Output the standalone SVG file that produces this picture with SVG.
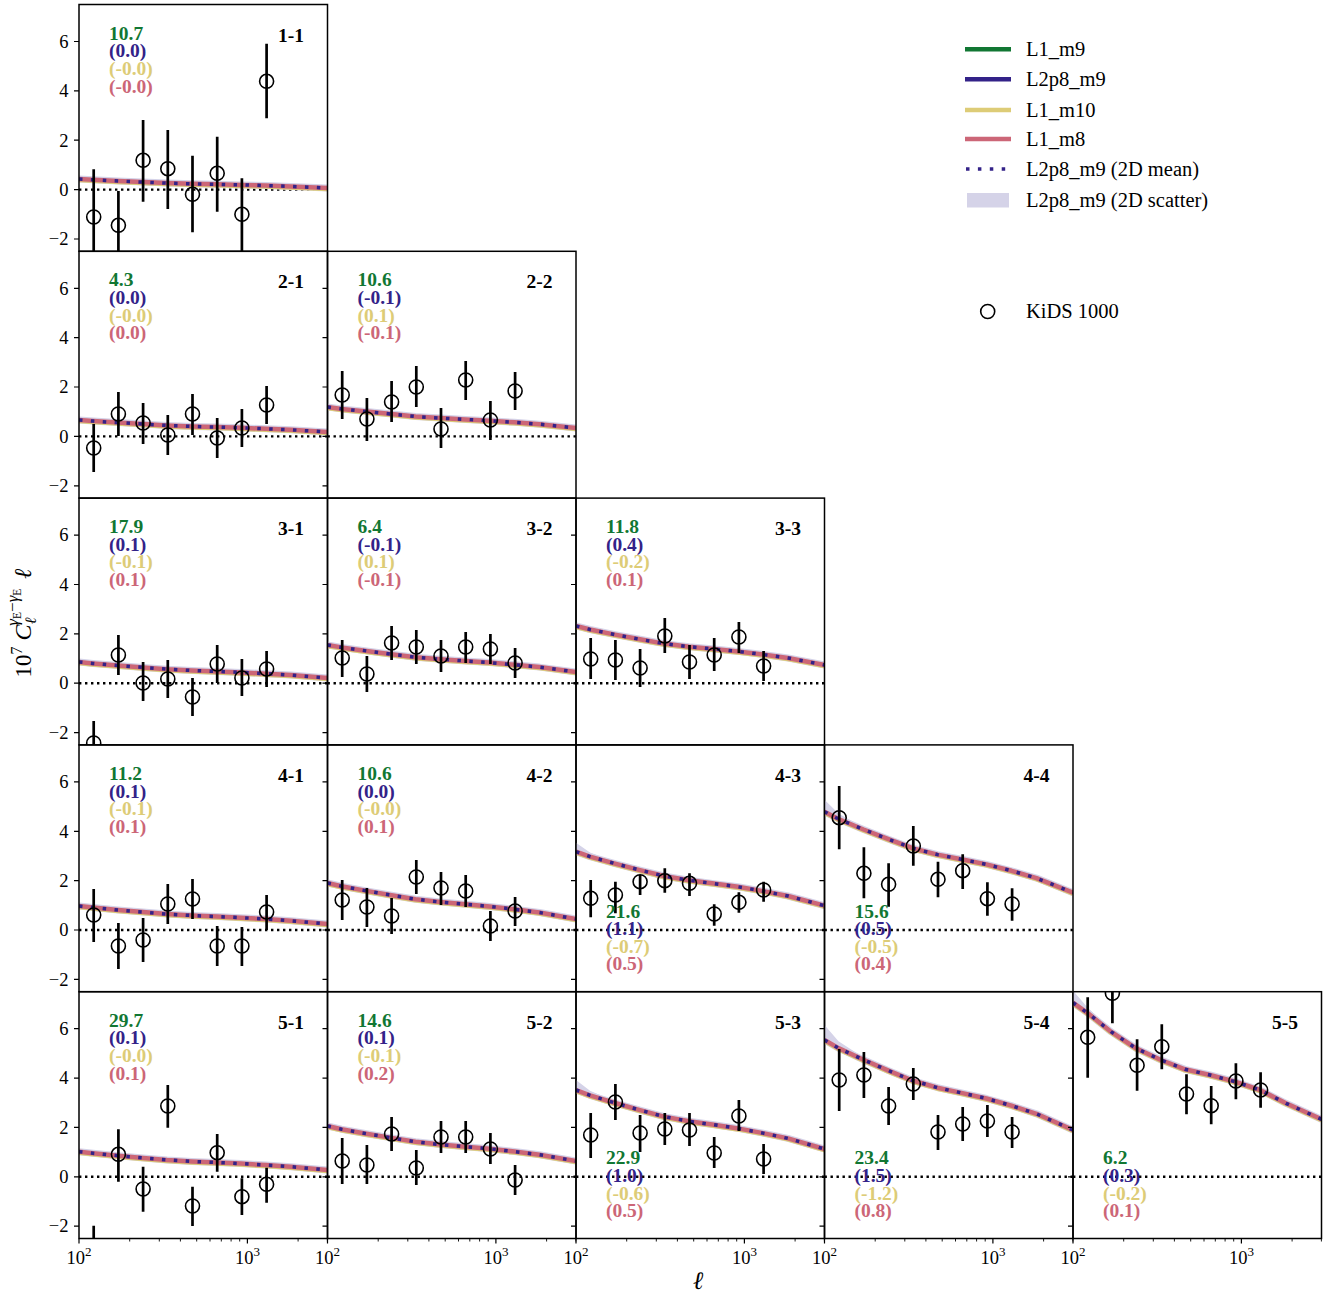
<svg xmlns="http://www.w3.org/2000/svg" width="1335" height="1294" viewBox="0 0 1335 1294">
<style>
.frame{fill:none;stroke:#000;stroke-width:1.5}
.tk{fill:none;stroke:#000;stroke-width:1.2}
.tkm{fill:none;stroke:#000;stroke-width:0.9}
.zero{fill:none;stroke:#000;stroke-width:2.4;stroke-dasharray:2.4 3.6}
.bd{fill:none;stroke:#d5d3e8;stroke-width:7;stroke-linejoin:round}
.wedge{fill:#d5d3e8}
.cg{fill:none;stroke:#117733;stroke-width:4.5}
.cb{fill:none;stroke:#332288;stroke-width:4.5}
.cy{fill:none;stroke:#ddcc77;stroke-width:4.5;stroke-linejoin:round}
.cp{fill:none;stroke:#cc6677;stroke-width:4.5;stroke-linejoin:round}
.cd{fill:none;stroke:#332288;stroke-width:3.5;stroke-dasharray:3.5 8.4}
.eb{fill:none;stroke:#000;stroke-width:2.7}
.pt{fill:none;stroke:#000;stroke-width:1.6}
text{font-family:"Liberation Serif","Times New Roman",serif}
.val{font-size:19.5px;font-weight:bold}
.lab{font-size:19.5px;font-weight:bold;text-anchor:end}
.g{fill:#117733}.b{fill:#332288}.y{fill:#ddcc77}.p{fill:#cc6677}
.yl{font-size:18.5px;text-anchor:end}
.xl{font-size:18.5px;text-anchor:middle}
.leg{font-size:20.5px}
</style>
<defs>
<clipPath id="clip"><rect x="0" y="0" width="248.5" height="246.8"/></clipPath>
<path id="yt" d="M-5 37H0M-5 86.4H0M-5 135.7H0M-5 185.1H0M-5 234.5H0"/>
<path id="xtM" d="M0 246.8v5M168.4 246.8v5"/>
<path id="xtm" d="M50.7 246.8v3M80.3 246.8v3M101.4 246.8v3M117.7 246.8v3M131 246.8v3M142.3 246.8v3M152.1 246.8v3M160.7 246.8v3M219.1 246.8v3M248.4 246.8v3"/>
<path id="c11" d="M0 174.5L14 175.3L39 176.5L64 177.6L88 178.6L113 179.3L138 179.8L162 180.4L187 181.1L212 181.9L248.5 183.5"/>
<path id="c21" d="M0 168.7L14 169.8L39 171.3L64 172.8L88 174.1L113 175.1L138 175.8L162 176.5L187 177.5L212 178.5L248.5 180.7"/>
<path id="c22" d="M0 155.7L14 157.6L39 160.3L64 162.8L88 165.2L113 166.8L138 168.1L162 169.4L187 171L212 172.9L248.5 176.7"/>
<path id="c31" d="M0 163.9L14 165.3L39 167.4L64 169.3L88 171.1L113 172.4L138 173.3L162 174.3L187 175.6L212 177L248.5 179.9"/>
<path id="c32" d="M0 146.9L14 149.3L39 152.8L64 156.1L88 159.1L113 161.2L138 162.8L162 164.5L187 166.6L212 169L248.5 173.9"/>
<path id="c33" d="M0 127.9L14 131.4L39 136.5L64 141.2L88 145.5L113 148.6L138 150.9L162 153.3L187 156.4L212 159.9L248.5 166.9"/>
<path id="c41" d="M0 161.1L14 162.7L39 165.1L64 167.2L88 169.2L113 170.6L138 171.7L162 172.8L187 174.2L212 175.9L248.5 179.1"/>
<path id="c42" d="M0 138.1L14 141.3L39 146L64 150.3L88 154.3L113 157.2L138 159.3L162 161.5L187 164.4L212 167.6L248.5 174.1"/>
<path id="c43" d="M0 106.8L14 111.7L39 118.7L64 125.2L88 131.1L113 135.4L138 138.7L162 141.9L187 146.2L212 151.1L248.5 160.8"/>
<path id="c44" d="M0 66.8L14 74.1L39 84.6L64 94.3L88 103.3L113 109.7L138 114.6L162 119.5L187 125.9L212 133.2L248.5 147.8"/>
<path id="c51" d="M0 160L14 161.6L39 164L64 166.2L88 168.2L113 169.7L138 170.8L162 171.9L187 173.4L212 175L248.5 178.3"/>
<path id="c52" d="M0 134.3L14 137.5L39 142L64 146.2L88 150.1L113 152.9L138 155L162 157.1L187 159.9L212 163L248.5 169.3"/>
<path id="c53" d="M0 98.3L14 103.6L39 111.3L64 118.4L88 124.9L113 129.6L138 133.1L162 136.7L187 141.4L212 146.7L248.5 157.3"/>
<path id="c54" d="M0 48.3L14 56.4L39 68.1L64 78.9L88 88.8L113 96L138 101.4L162 106.8L187 114L212 122.1L248.5 138.3"/>
<path id="c55" d="M0 11L15 21.6L38 40L63 56.6L88 68.3L112 77.6L137 83.3L162 90L187 98.3L213 111.6L248.5 127.6"/>
</defs>
<rect width="1335" height="1294" fill="#fff"/>

<!-- Row 1 -->
<g id="p11" transform="translate(79 4.5)">
<g clip-path="url(#clip)">
<path class="zero" d="M0 185.1H248.5"/>
<use href="#c11" class="bd"/><use href="#c11" class="cy" y="1"/><use href="#c11" class="cp"/><use href="#c11" class="cd"/>
<path class="eb" d="M14.7 164.8V260M39.4 186.5V260M64.1 115.5V197.2M88.8 125.5V204.5M113.5 151.2V227.8M138.2 132.2V207.2M162.9 173.8V260M187.6 39.2V113.8"/>
<g class="pt"><circle cx="14.7" cy="212.5" r="7"/><circle cx="39.4" cy="220.8" r="7"/><circle cx="64.1" cy="155.8" r="7"/><circle cx="88.8" cy="164.2" r="7"/><circle cx="113.5" cy="189.8" r="7"/><circle cx="138.2" cy="168.8" r="7"/><circle cx="162.9" cy="209.8" r="7"/><circle cx="187.6" cy="76.8" r="7"/></g>
</g>
<rect class="frame" width="248.5" height="246.8"/>
<use href="#yt" class="tk"/>
<text class="yl" x="-10.5" y="43.3">6</text><text class="yl" x="-10.5" y="92.7">4</text><text class="yl" x="-10.5" y="142">2</text><text class="yl" x="-10.5" y="191.4">0</text><text class="yl" x="-10.5" y="240.8">−2</text>
<text class="val g" x="30" y="35.2">10.7</text><text class="val b" x="30" y="52.8">(0.0)</text><text class="val y" x="30" y="70.4">(-0.0)</text><text class="val p" x="30" y="88">(-0.0)</text>
<text class="lab" x="225" y="37">1-1</text>
</g>

<!-- Row 2 -->
<g id="p21" transform="translate(79 251.3)">
<g clip-path="url(#clip)">
<path class="zero" d="M0 185.1H248.5"/>
<use href="#c21" class="bd"/><use href="#c21" class="cy" y="1"/><use href="#c21" class="cp"/><use href="#c21" class="cd"/>
<path class="eb" d="M14.7 172.7V220.7M39.4 140.7V184.7M64.1 151.7V192.7M88.8 163.7V203.7M113.5 142.7V183.7M138.2 166.7V206.7M162.9 157.7V195.7M187.6 134.7V172.7"/>
<g class="pt"><circle cx="14.7" cy="196.7" r="7"/><circle cx="39.4" cy="162.7" r="7"/><circle cx="64.1" cy="171.7" r="7"/><circle cx="88.8" cy="183.7" r="7"/><circle cx="113.5" cy="162.7" r="7"/><circle cx="138.2" cy="186.7" r="7"/><circle cx="162.9" cy="176.7" r="7"/><circle cx="187.6" cy="153.7" r="7"/></g>
</g>
<rect class="frame" width="248.5" height="246.8"/>
<use href="#yt" class="tk"/>
<text class="yl" x="-10.5" y="43.3">6</text><text class="yl" x="-10.5" y="92.7">4</text><text class="yl" x="-10.5" y="142">2</text><text class="yl" x="-10.5" y="191.4">0</text><text class="yl" x="-10.5" y="240.8">−2</text>
<text class="val g" x="30" y="35.2">4.3</text><text class="val b" x="30" y="52.8">(0.0)</text><text class="val y" x="30" y="70.4">(-0.0)</text><text class="val p" x="30" y="88">(0.0)</text>
<text class="lab" x="225" y="37">2-1</text>
</g>

<g id="p22" transform="translate(327.5 251.3)">
<g clip-path="url(#clip)">
<path class="zero" d="M0 185.1H248.5"/>
<use href="#c22" class="bd"/><use href="#c22" class="cy" y="1"/><use href="#c22" class="cp"/><use href="#c22" class="cd"/>
<path class="eb" d="M14.7 119.7V167.7M39.4 146.7V189.7M64.1 129.7V170.7M88.8 114.7V155.7M113.5 156.7V196.7M138.2 109.7V148.7M162.9 149.7V188.7M187.6 120.7V158.7"/>
<g class="pt"><circle cx="14.7" cy="143.7" r="7"/><circle cx="39.4" cy="167.7" r="7"/><circle cx="64.1" cy="150.7" r="7"/><circle cx="88.8" cy="135.7" r="7"/><circle cx="113.5" cy="177.7" r="7"/><circle cx="138.2" cy="128.7" r="7"/><circle cx="162.9" cy="168.7" r="7"/><circle cx="187.6" cy="139.7" r="7"/></g>
</g>
<rect class="frame" width="248.5" height="246.8"/>
<use href="#yt" class="tk"/>
<text class="val g" x="30" y="35.2">10.6</text><text class="val b" x="30" y="52.8">(-0.1)</text><text class="val y" x="30" y="70.4">(0.1)</text><text class="val p" x="30" y="88">(-0.1)</text>
<text class="lab" x="225" y="37">2-2</text>
</g>

<!-- Row 3 -->
<g id="p31" transform="translate(79 498.1)">
<g clip-path="url(#clip)">
<path class="zero" d="M0 185.1H248.5"/>
<use href="#c31" class="bd"/><use href="#c31" class="cy" y="1"/><use href="#c31" class="cp"/><use href="#c31" class="cd"/>
<path class="eb" d="M14.7 222.9V267M39.4 136.9V176.9M64.1 163.9V202.9M88.8 161.9V199.9M113.5 179.9V217.9M138.2 146.9V184.9M162.9 160.9V197.9M187.6 152.9V188.9"/>
<g class="pt"><circle cx="14.7" cy="244.9" r="7"/><circle cx="39.4" cy="156.9" r="7"/><circle cx="64.1" cy="184.9" r="7"/><circle cx="88.8" cy="180.9" r="7"/><circle cx="113.5" cy="198.9" r="7"/><circle cx="138.2" cy="165.9" r="7"/><circle cx="162.9" cy="179.9" r="7"/><circle cx="187.6" cy="170.9" r="7"/></g>
</g>
<rect class="frame" width="248.5" height="246.8"/>
<use href="#yt" class="tk"/>
<text class="yl" x="-10.5" y="43.3">6</text><text class="yl" x="-10.5" y="92.7">4</text><text class="yl" x="-10.5" y="142">2</text><text class="yl" x="-10.5" y="191.4">0</text><text class="yl" x="-10.5" y="240.8">−2</text>
<text class="val g" x="30" y="35.2">17.9</text><text class="val b" x="30" y="52.8">(0.1)</text><text class="val y" x="30" y="70.4">(-0.1)</text><text class="val p" x="30" y="88">(0.1)</text>
<text class="lab" x="225" y="37">3-1</text>
</g>

<g id="p32" transform="translate(327.5 498.1)">
<g clip-path="url(#clip)">
<path class="zero" d="M0 185.1H248.5"/>
<use href="#c32" class="bd"/><use href="#c32" class="cy" y="1"/><use href="#c32" class="cp"/><use href="#c32" class="cd"/>
<path class="eb" d="M14.7 141.9V178.9M39.4 157.9V193.9M64.1 127.9V161.9M88.8 131.9V165.9M113.5 141.9V173.9M138.2 133.9V164.9M162.9 135.9V165.9M187.6 149.9V179.9"/>
<g class="pt"><circle cx="14.7" cy="159.9" r="7"/><circle cx="39.4" cy="175.9" r="7"/><circle cx="64.1" cy="144.9" r="7"/><circle cx="88.8" cy="148.9" r="7"/><circle cx="113.5" cy="157.9" r="7"/><circle cx="138.2" cy="148.9" r="7"/><circle cx="162.9" cy="150.9" r="7"/><circle cx="187.6" cy="164.9" r="7"/></g>
</g>
<rect class="frame" width="248.5" height="246.8"/>
<use href="#yt" class="tk"/>
<text class="val g" x="30" y="35.2">6.4</text><text class="val b" x="30" y="52.8">(-0.1)</text><text class="val y" x="30" y="70.4">(0.1)</text><text class="val p" x="30" y="88">(-0.1)</text>
<text class="lab" x="225" y="37">3-2</text>
</g>

<g id="p33" transform="translate(576 498.1)">
<g clip-path="url(#clip)">
<path class="zero" d="M0 185.1H248.5"/>
<use href="#c33" class="bd"/><use href="#c33" class="cy" y="1"/><use href="#c33" class="cp"/><use href="#c33" class="cd"/>
<path class="eb" d="M14.7 139.9V180.9M39.4 141.9V181.9M64.1 150.9V188.9M88.8 119.9V154.9M113.5 146.9V180.9M138.2 139.9V172.9M162.9 123.9V154.9M187.6 152.9V182.9"/>
<g class="pt"><circle cx="14.7" cy="160.9" r="7"/><circle cx="39.4" cy="161.9" r="7"/><circle cx="64.1" cy="169.9" r="7"/><circle cx="88.8" cy="137.9" r="7"/><circle cx="113.5" cy="163.9" r="7"/><circle cx="138.2" cy="156.9" r="7"/><circle cx="162.9" cy="138.9" r="7"/><circle cx="187.6" cy="167.9" r="7"/></g>
</g>
<rect class="frame" width="248.5" height="246.8"/>
<use href="#yt" class="tk"/>
<text class="val g" x="30" y="35.2">11.8</text><text class="val b" x="30" y="52.8">(0.4)</text><text class="val y" x="30" y="70.4">(-0.2)</text><text class="val p" x="30" y="88">(0.1)</text>
<text class="lab" x="225" y="37">3-3</text>
</g>

<!-- Row 4 -->
<g id="p41" transform="translate(79 744.9)">
<g clip-path="url(#clip)">
<path class="zero" d="M0 185.1H248.5"/>
<use href="#c41" class="bd"/><use href="#c41" class="cy" y="1"/><use href="#c41" class="cp"/><use href="#c41" class="cd"/>
<path class="eb" d="M14.7 144.1V197.1M39.4 178.1V224.1M64.1 173.1V217.1M88.8 139.1V179.1M113.5 134.1V174.1M138.2 181.1V221.1M162.9 182.1V221.1M187.6 150.1V185.1"/>
<g class="pt"><circle cx="14.7" cy="170.1" r="7"/><circle cx="39.4" cy="201.1" r="7"/><circle cx="64.1" cy="195.1" r="7"/><circle cx="88.8" cy="159.1" r="7"/><circle cx="113.5" cy="154.1" r="7"/><circle cx="138.2" cy="201.1" r="7"/><circle cx="162.9" cy="201.1" r="7"/><circle cx="187.6" cy="167.1" r="7"/></g>
</g>
<rect class="frame" width="248.5" height="246.8"/>
<use href="#yt" class="tk"/>
<text class="yl" x="-10.5" y="43.3">6</text><text class="yl" x="-10.5" y="92.7">4</text><text class="yl" x="-10.5" y="142">2</text><text class="yl" x="-10.5" y="191.4">0</text><text class="yl" x="-10.5" y="240.8">−2</text>
<text class="val g" x="30" y="35.2">11.2</text><text class="val b" x="30" y="52.8">(0.1)</text><text class="val y" x="30" y="70.4">(-0.1)</text><text class="val p" x="30" y="88">(0.1)</text>
<text class="lab" x="225" y="37">4-1</text>
</g>

<g id="p42" transform="translate(327.5 744.9)">
<g clip-path="url(#clip)">
<path class="zero" d="M0 185.1H248.5"/>
<use href="#c42" class="bd"/><use href="#c42" class="cy" y="1"/><use href="#c42" class="cp"/><use href="#c42" class="cd"/>
<path class="eb" d="M14.7 135.1V175.1M39.4 143.1V182.1M64.1 153.1V189.1M88.8 115.1V149.1M113.5 127.1V160.1M138.2 130.1V162.1M162.9 166.1V196.1M187.6 152.1V181.1"/>
<g class="pt"><circle cx="14.7" cy="155.1" r="7"/><circle cx="39.4" cy="162.1" r="7"/><circle cx="64.1" cy="171.1" r="7"/><circle cx="88.8" cy="132.1" r="7"/><circle cx="113.5" cy="143.1" r="7"/><circle cx="138.2" cy="146.1" r="7"/><circle cx="162.9" cy="181.1" r="7"/><circle cx="187.6" cy="166.1" r="7"/></g>
</g>
<rect class="frame" width="248.5" height="246.8"/>
<use href="#yt" class="tk"/>
<text class="val g" x="30" y="35.2">10.6</text><text class="val b" x="30" y="52.8">(0.0)</text><text class="val y" x="30" y="70.4">(-0.0)</text><text class="val p" x="30" y="88">(0.1)</text>
<text class="lab" x="225" y="37">4-2</text>
</g>

<g id="p43" transform="translate(576 744.9)">
<g clip-path="url(#clip)">
<path class="zero" d="M0 185.1H248.5"/>
<path class="wedge" d="M0 97.8L14 107.7L39 117.3L64 125.2L0 106.8Z"/>
<use href="#c43" class="bd"/><use href="#c43" class="cy" y="1"/><use href="#c43" class="cp"/><use href="#c43" class="cd"/>
<path class="eb" d="M14.7 135.1V172.4M39.4 136.8V168.4M64.1 130.1V150.1M88.8 123.4V147.8M113.5 128.4V151.1M138.2 159.4V180.8M162.9 147.4V167.8M187.6 136.8V156.8"/>
<g class="pt"><circle cx="14.7" cy="153.4" r="7"/><circle cx="39.4" cy="150.1" r="7"/><circle cx="64.1" cy="136.8" r="7"/><circle cx="88.8" cy="135.8" r="7"/><circle cx="113.5" cy="138.4" r="7"/><circle cx="138.2" cy="169.1" r="7"/><circle cx="162.9" cy="157.4" r="7"/><circle cx="187.6" cy="145.1" r="7"/></g>
</g>
<rect class="frame" width="248.5" height="246.8"/>
<use href="#yt" class="tk"/>
<text class="val g" x="30" y="172.8">21.6</text><text class="val b" x="30" y="190.4">(1.1)</text><text class="val y" x="30" y="208">(-0.7)</text><text class="val p" x="30" y="225.6">(0.5)</text>
<text class="lab" x="225" y="37">4-3</text>
</g>

<g id="p44" transform="translate(824.5 744.9)">
<g clip-path="url(#clip)">
<path class="zero" d="M0 185.1H248.5"/>
<path class="wedge" d="M0 54.8L14 68.7L39 82.8L64 94.3L0 66.8Z"/>
<use href="#c44" class="bd"/><use href="#c44" class="cy" y="1"/><use href="#c44" class="cp"/><use href="#c44" class="cd"/>
<path class="eb" d="M14.7 41.1V104.4M39.4 102.4V153.4M64.1 118.4V161.8M88.8 81.1V120.8M113.5 116.8V152.4M138.2 109.4V144.1M162.9 137.4V170.8M187.6 143.4V175.8"/>
<g class="pt"><circle cx="14.7" cy="72.8" r="7"/><circle cx="39.4" cy="128.4" r="7"/><circle cx="64.1" cy="139.4" r="7"/><circle cx="88.8" cy="101.1" r="7"/><circle cx="113.5" cy="134.4" r="7"/><circle cx="138.2" cy="125.8" r="7"/><circle cx="162.9" cy="153.8" r="7"/><circle cx="187.6" cy="159.1" r="7"/></g>
</g>
<rect class="frame" width="248.5" height="246.8"/>
<use href="#yt" class="tk"/>
<text class="val g" x="30" y="172.8">15.6</text><text class="val b" x="30" y="190.4">(0.5)</text><text class="val y" x="30" y="208">(-0.5)</text><text class="val p" x="30" y="225.6">(0.4)</text>
<text class="lab" x="225" y="37">4-4</text>
</g>

<!-- Row 5 -->
<g id="p51" transform="translate(79 991.7)">
<g clip-path="url(#clip)">
<path class="zero" d="M0 185.1H248.5"/>
<use href="#c51" class="bd"/><use href="#c51" class="cy" y="1"/><use href="#c51" class="cp"/><use href="#c51" class="cd"/>
<path class="eb" d="M14.7 234V278M39.4 137.6V190M64.1 175V220M88.8 93.3V136M113.5 195V234.3M138.2 142.3V180M162.9 186.6V223.3M187.6 176V211"/>
<g class="pt"><circle cx="14.7" cy="255.3" r="7"/><circle cx="39.4" cy="162.6" r="7"/><circle cx="64.1" cy="197.3" r="7"/><circle cx="88.8" cy="114.3" r="7"/><circle cx="113.5" cy="214.3" r="7"/><circle cx="138.2" cy="161" r="7"/><circle cx="162.9" cy="205" r="7"/><circle cx="187.6" cy="192.6" r="7"/></g>
</g>
<rect class="frame" width="248.5" height="246.8"/>
<use href="#yt" class="tk"/><use href="#xtM" class="tk"/><use href="#xtm" class="tkm"/>
<text class="yl" x="-10.5" y="43.3">6</text><text class="yl" x="-10.5" y="92.7">4</text><text class="yl" x="-10.5" y="142">2</text><text class="yl" x="-10.5" y="191.4">0</text><text class="yl" x="-10.5" y="240.8">−2</text>
<text class="val g" x="30" y="35.2">29.7</text><text class="val b" x="30" y="52.8">(0.1)</text><text class="val y" x="30" y="70.4">(-0.0)</text><text class="val p" x="30" y="88">(0.1)</text>
<text class="lab" x="225" y="37">5-1</text>
</g>

<g id="p52" transform="translate(327.5 991.7)">
<g clip-path="url(#clip)">
<path class="zero" d="M0 185.1H248.5"/>
<use href="#c52" class="bd"/><use href="#c52" class="cy" y="1"/><use href="#c52" class="cp"/><use href="#c52" class="cd"/>
<path class="eb" d="M14.7 146.3V192.3M39.4 153.3V192.3M64.1 125.3V159.3M88.8 158.3V193.3M113.5 129.3V161.3M138.2 129.3V161.3M162.9 141.3V172.3M187.6 173.3V203.3"/>
<g class="pt"><circle cx="14.7" cy="169.3" r="7"/><circle cx="39.4" cy="173.3" r="7"/><circle cx="64.1" cy="142.3" r="7"/><circle cx="88.8" cy="176.3" r="7"/><circle cx="113.5" cy="145.3" r="7"/><circle cx="138.2" cy="145.3" r="7"/><circle cx="162.9" cy="157.3" r="7"/><circle cx="187.6" cy="188.3" r="7"/></g>
</g>
<rect class="frame" width="248.5" height="246.8"/>
<use href="#yt" class="tk"/><use href="#xtM" class="tk"/><use href="#xtm" class="tkm"/>
<text class="val g" x="30" y="35.2">14.6</text><text class="val b" x="30" y="52.8">(0.1)</text><text class="val y" x="30" y="70.4">(-0.1)</text><text class="val p" x="30" y="88">(0.2)</text>
<text class="lab" x="225" y="37">5-2</text>
</g>

<g id="p53" transform="translate(576 991.7)">
<g clip-path="url(#clip)">
<path class="zero" d="M0 185.1H248.5"/>
<path class="wedge" d="M0 88.3L14 99.1L39 109.8L64 118.4L0 98.3Z"/>
<use href="#c53" class="bd"/><use href="#c53" class="cy" y="1"/><use href="#c53" class="cp"/><use href="#c53" class="cd"/>
<path class="eb" d="M14.7 121.3V166.3M39.4 92.3V128.3M64.1 123.3V160.3M88.8 121.3V153.3M113.5 121.3V154.3M138.2 145.3V176.3M162.9 108.3V139.3M187.6 152.3V182.3"/>
<g class="pt"><circle cx="14.7" cy="143.3" r="7"/><circle cx="39.4" cy="110.3" r="7"/><circle cx="64.1" cy="141.3" r="7"/><circle cx="88.8" cy="137.3" r="7"/><circle cx="113.5" cy="138.3" r="7"/><circle cx="138.2" cy="161.3" r="7"/><circle cx="162.9" cy="124.3" r="7"/><circle cx="187.6" cy="167.3" r="7"/></g>
</g>
<rect class="frame" width="248.5" height="246.8"/>
<use href="#yt" class="tk"/><use href="#xtM" class="tk"/><use href="#xtm" class="tkm"/>
<text class="val g" x="30" y="172.8">22.9</text><text class="val b" x="30" y="190.4">(1.0)</text><text class="val y" x="30" y="208">(-0.6)</text><text class="val p" x="30" y="225.6">(0.5)</text>
<text class="lab" x="225" y="37">5-3</text>
</g>

<g id="p54" transform="translate(824.5 991.7)">
<g clip-path="url(#clip)">
<path class="zero" d="M0 185.1H248.5"/>
<path class="wedge" d="M0 33.3L14 49.6L39 65.8L64 78.9L0 48.3Z"/>
<use href="#c54" class="bd"/><use href="#c54" class="cy" y="1"/><use href="#c54" class="cp"/><use href="#c54" class="cd"/>
<path class="eb" d="M14.7 57.3V119.3M39.4 60.3V106.3M64.1 95.3V133.3M88.8 76.3V108.3M113.5 123.3V158.3M138.2 115.3V149.3M162.9 113.3V145.3M187.6 125.3V156.3"/>
<g class="pt"><circle cx="14.7" cy="88.3" r="7"/><circle cx="39.4" cy="83.3" r="7"/><circle cx="64.1" cy="114.3" r="7"/><circle cx="88.8" cy="92.3" r="7"/><circle cx="113.5" cy="140.3" r="7"/><circle cx="138.2" cy="132.3" r="7"/><circle cx="162.9" cy="129.3" r="7"/><circle cx="187.6" cy="140.3" r="7"/></g>
</g>
<rect class="frame" width="248.5" height="246.8"/>
<use href="#yt" class="tk"/><use href="#xtM" class="tk"/><use href="#xtm" class="tkm"/>
<text class="val g" x="30" y="172.8">23.4</text><text class="val b" x="30" y="190.4">(1.5)</text><text class="val y" x="30" y="208">(-1.2)</text><text class="val p" x="30" y="225.6">(0.8)</text>
<text class="lab" x="225" y="37">5-4</text>
</g>

<g id="p55" transform="translate(1073 991.7)">
<g clip-path="url(#clip)">
<path class="zero" d="M0 185.1H248.5"/>
<path class="wedge" d="M0 -1L15 16.2L38 38.2L63 56.6L0 11Z"/>
<use href="#c55" class="bd"/><use href="#c55" class="cy" y="1"/><use href="#c55" class="cp"/><use href="#c55" class="cd"/>
<path class="eb" d="M14.7 5.6V86M39.4 -25V31.6M64.1 47.6V99M88.8 32.6V77.6M113.5 82.6V122.6M138.2 94.3V132.6M162.9 71.6V107.6M187.6 80.6V116"/>
<g class="pt"><circle cx="14.7" cy="45.6" r="7"/><circle cx="39.4" cy="1.6" r="7"/><circle cx="64.1" cy="73.6" r="7"/><circle cx="88.8" cy="55" r="7"/><circle cx="113.5" cy="102.3" r="7"/><circle cx="138.2" cy="114" r="7"/><circle cx="162.9" cy="89.3" r="7"/><circle cx="187.6" cy="98.3" r="7"/></g>
</g>
<rect class="frame" width="248.5" height="246.8"/>
<use href="#yt" class="tk"/><use href="#xtM" class="tk"/><use href="#xtm" class="tkm"/>
<text class="val g" x="30" y="172.8">6.2</text><text class="val b" x="30" y="190.4">(0.3)</text><text class="val y" x="30" y="208">(-0.2)</text><text class="val p" x="30" y="225.6">(0.1)</text>
<text class="lab" x="225" y="37">5-5</text>
</g>

<!-- x tick labels -->
<g id="xticklabels">
<text class="xl" x="79" y="1263.5">10<tspan dy="-7.5" font-size="13">2</tspan></text>
<text class="xl" x="247.4" y="1263.5">10<tspan dy="-7.5" font-size="13">3</tspan></text>
<text class="xl" x="327.5" y="1263.5">10<tspan dy="-7.5" font-size="13">2</tspan></text>
<text class="xl" x="495.9" y="1263.5">10<tspan dy="-7.5" font-size="13">3</tspan></text>
<text class="xl" x="576" y="1263.5">10<tspan dy="-7.5" font-size="13">2</tspan></text>
<text class="xl" x="744.4" y="1263.5">10<tspan dy="-7.5" font-size="13">3</tspan></text>
<text class="xl" x="824.5" y="1263.5">10<tspan dy="-7.5" font-size="13">2</tspan></text>
<text class="xl" x="992.9" y="1263.5">10<tspan dy="-7.5" font-size="13">3</tspan></text>
<text class="xl" x="1073" y="1263.5">10<tspan dy="-7.5" font-size="13">2</tspan></text>
<text class="xl" x="1241.4" y="1263.5">10<tspan dy="-7.5" font-size="13">3</tspan></text>
</g>

<!-- axis labels -->
<text x="698" y="1289" font-size="25" font-style="italic" text-anchor="middle">ℓ</text>
<text transform="translate(31 623) rotate(-90)" text-anchor="middle" font-size="23">10<tspan dy="-9" font-size="16">7</tspan><tspan dy="9" font-style="italic" font-size="24"> C</tspan><tspan font-style="italic" font-size="16" dy="5">ℓ</tspan><tspan font-style="italic" font-size="17" dx="-8" dy="-18">γ</tspan><tspan font-size="11.5" dy="3">E</tspan><tspan font-size="17" dy="-3">−</tspan><tspan font-style="italic" font-size="17">γ</tspan><tspan font-size="11.5" dy="3">E</tspan><tspan dx="4" dy="10" font-style="italic" font-size="24"> ℓ</tspan></text>

<!-- legend -->
<g id="legend">
<path class="cg" d="M965 49.3H1011"/>
<path class="cb" d="M965 79.3H1011"/>
<path class="cy" d="M965 110H1011"/>
<path class="cp" d="M965 139H1011"/>
<path class="cd" d="M966 169H1011"/>
<rect x="967" y="193" width="42" height="14.5" fill="#d5d3e8"/>
<circle class="pt" cx="987.7" cy="311.5" r="7"/>
<text class="leg" x="1026" y="56">L1_m9</text>
<text class="leg" x="1026" y="86">L2p8_m9</text>
<text class="leg" x="1026" y="116.7">L1_m10</text>
<text class="leg" x="1026" y="146.2">L1_m8</text>
<text class="leg" x="1026" y="176.3">L2p8_m9 (2D mean)</text>
<text class="leg" x="1026" y="207.3">L2p8_m9 (2D scatter)</text>
<text class="leg" x="1026" y="318">KiDS 1000</text>
</g>
</svg>
